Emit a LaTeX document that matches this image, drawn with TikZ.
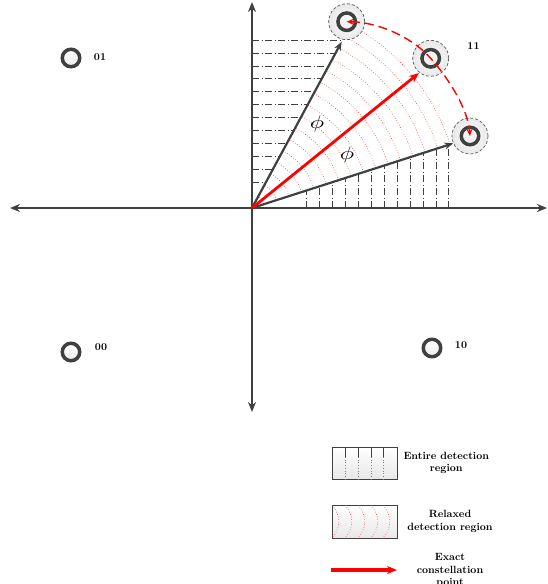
\documentclass[tikz,border=0pt]{standalone}
\usetikzlibrary{arrows.meta,shadings}
\definecolor{axisgray}{HTML}{404040}
\definecolor{arrowred}{HTML}{FF0000}
\tikzset{
  axisline/.style={draw=axisgray, line width=2.4pt, -{Stealth[length=10pt,width=8pt]}},
  vecline/.style={draw=axisgray, line width=2.2pt, -{Stealth[length=9pt,width=7pt]}},
  redvec/.style={draw=arrowred, line width=2.8pt, -{Stealth[length=10pt,width=8pt]}},
  ring/.style={circle, draw=axisgray, line width=3.5pt, minimum size=17.5pt, inner sep=0pt, top color=white, bottom color=gray!15},
  halo/.style={circle, draw=gray!70!black, dashed, dash pattern=on 3pt off 2pt, line width=0.7pt, minimum size=36pt, inner sep=0pt, inner color=white, outer color=gray!18},
  hline/.style={draw=black!75, line width=0.55pt, dash pattern=on 7pt off 2.5pt on 1pt off 2.5pt},
  vline/.style={draw=black!75, line width=0.55pt, dash pattern=on 7pt off 2.5pt on 1pt off 2.5pt},
  redarc/.style={draw=red!80, line width=0.6pt, dotted},
  lbl/.style={font=\bfseries\fontsize{10.5}{12.5}\selectfont, inner sep=0pt, align=center},
  philbl/.style={inner sep=0pt, xscale=2.4, yscale=1.8},
  legbox/.style={draw=axisgray, line width=0.8pt, top color=white, bottom color=gray!18},
  rotarrow/.style={draw=arrowred, line width=1.4pt, dash pattern=on 9pt off 5pt, {Stealth[length=7pt,width=6pt]}-{Stealth[length=7pt,width=6pt]}},
}
\begin{document}
\begin{tikzpicture}[x=1pt,y=-1pt]
\useasboundingbox (0,0) rectangle (547,584);
\coordinate (O) at (252,208);
% dash-dot horizontal lines
\foreach \i in {0,...,11}{
  \pgfmathsetmacro\yy{40+\i*12.9}
  \pgfmathsetmacro\xx{252+(208-\yy)*89.7/166.3}
  \draw[hline] (252,\yy) -- (\xx,\yy);
}
% dash-dot vertical lines
\foreach \i in {0,...,11}{
  \pgfmathsetmacro\xx{306.3+\i*12.95}
  \pgfmathsetmacro\yy{208-(\xx-252)*64.7/201.3}
  \draw[vline] (\xx,208) -- (\xx,\yy);
}
% red dotted arcs
\foreach \r in {13,26,...,208}{
  \draw[redarc] (O) ++(-17.8:\r) arc[start angle=-17.8, end angle=-61.6, radius=\r];
}
% axes
\coordinate (xl) at (10,208);
\coordinate (xr) at (547,208);
\coordinate (yt) at (252,2);
\coordinate (yb) at (252,412);
\draw[axisline] (O) -- (xl);
\draw[axisline] (O) -- (xr);
\draw[axisline] (O) -- (yt);
\draw[axisline] (O) -- (yb);
% vectors
\coordinate (vu) at (341.7,41.7);
\coordinate (vl) at (453.3,143.3);
\coordinate (vr) at (419,73);
\draw[vecline] (O) -- (vu);
\draw[vecline] (O) -- (vl);
\draw[redvec] (O) -- (vr);
% phi labels
\node[philbl] (phi1) at (317,123.5) {$\phi$};
\node[philbl] (phi2) at (347,154.5) {$\phi$};
% constellation points
\node[ring] (p01) at (71,58) {};
\node[ring] (p00) at (71,352) {};
\node[ring] (p10) at (432,348) {};
\node[halo] (h11) at (430.7,58.3) {};
\node[ring] (p11) at (430.7,58.3) {};
\node[halo] (hu) at (346.7,21.7) {};
\node[ring] (pu) at (346.7,21.7) {};
\node[halo] (hl) at (470,136) {};
\node[ring] (pl) at (470,136) {};
\node[lbl] (l01) at (100,57) {01};
\node[lbl] (l00) at (101,347.5) {00};
\node[lbl] (l10) at (461,345) {10};
\node[lbl] (l11) at (473.5,46.5) {11};
% rotation arrows
\draw[rotarrow] (pu.center) .. controls (375,22) and (410,35) .. (p11.center)
   .. controls (450,80) and (468,110) .. (pl.center);
% legend
\node[legbox, minimum width=65pt, minimum height=32pt, inner sep=0pt] (leg1) at (364.5,463) {};
\foreach \x in {345,358,371,383}{
  \draw[axisgray, line width=0.8pt] (\x,447) -- (\x,457);
  \draw[gray, line width=0.7pt, dotted] (\x,457) -- (\x,479);
}
\node[lbl] (t1) at (446.3,463) {Entire detection\\region};
\node[legbox, minimum width=65pt, minimum height=33pt, inner sep=0pt] (leg2) at (364.5,521.5) {};
\foreach \x in {332,345,358,371,383}{
  \draw[redarc] (\x,505.5) .. controls (\x+9,514) and (\x+9,529) .. (\x,537.5);
}
\node[lbl] (t2) at (450,521.5) {Relaxed\\detection region};
\coordinate (la) at (331,570);
\coordinate (lb) at (397,570);
\draw[redvec, line width=3.2pt] (la) -- (lb);
\node[lbl] (t3) at (450,570.5) {Exact\\constellation\\point};
\end{tikzpicture}
\end{document}
